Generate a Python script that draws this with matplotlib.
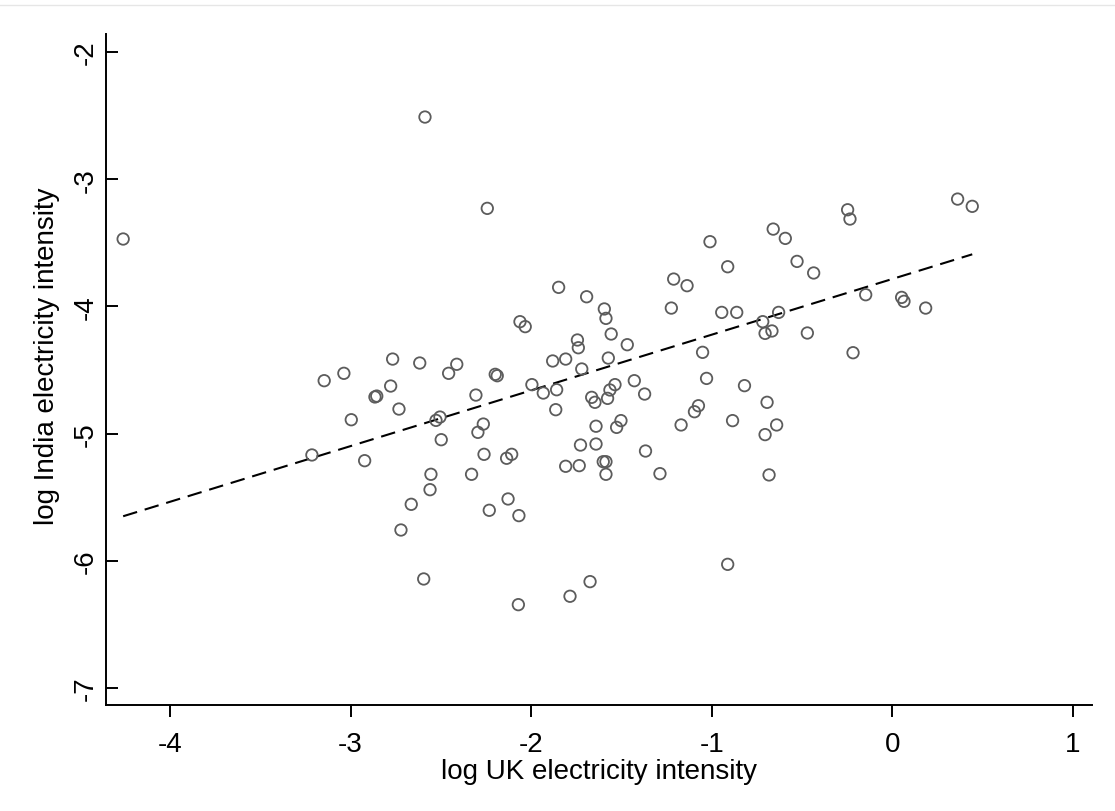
import numpy as np
import matplotlib
matplotlib.use("Agg")
import matplotlib.pyplot as plt
from matplotlib.lines import Line2D

plt.rcParams['font.family'] = ['Liberation Sans', 'DejaVu Sans']

# log UK electricity intensity (x) and log India electricity intensity (y)
uk = [-4.259, -3.146, -3.037, -2.767, -2.617, -2.412, -2.457, -2.778, -2.865, -2.855,
      -2.732, -2.996, -2.505, -2.527, -2.498, -3.214, -2.922, -2.555, -2.560, -2.664,
      -2.721, -2.595, -2.588, -2.243, -0.660, -0.593, -1.010, -0.912, -1.848, -1.693,
      -1.211, -1.137, -1.595, -1.586, -1.224, -0.945, -0.862, -0.630, -0.718, -0.705,
      -0.667, -2.062, -2.033, -1.557, -1.468, -1.744, -1.739, -1.573, -1.881, -1.809,
      -1.720, -2.199, -2.188, -2.306, -1.996, -1.933, -1.859, -1.864, -1.429, -1.372,
      -1.536, -1.564, -1.665, -1.647, -1.577, -1.051, -1.029, -0.819, -1.074, -1.096,
      -0.694, -0.885, -0.641, -0.705, -1.170, -2.265, -2.295, -2.261, -2.108, -2.136,
      -2.330, -1.641, -1.503, -1.527, -1.727, -1.641, -1.367, -1.809, -1.734, -1.601,
      -1.586, -1.586, -1.287, -0.683, -2.232, -2.128, -2.068, -2.071, -1.785, -1.674,
      -0.912, -0.528, -0.436, -0.248, -0.235, 0.361, 0.442, -0.148, 0.051, 0.064,
      0.184, -0.471, -0.218]
india = [-3.470, -4.584, -4.526, -4.414, -4.445, -4.455, -4.526, -4.626, -4.712, -4.705,
         -4.807, -4.891, -4.870, -4.896, -5.048, -5.168, -5.213, -5.320, -5.441, -5.556,
         -5.758, -6.143, -2.511, -3.229, -3.392, -3.465, -3.491, -3.688, -3.850, -3.924,
         -3.785, -3.837, -4.020, -4.094, -4.013, -4.047, -4.047, -4.047, -4.120, -4.212,
         -4.193, -4.120, -4.159, -4.217, -4.301, -4.264, -4.325, -4.406, -4.429, -4.414,
         -4.492, -4.534, -4.545, -4.697, -4.615, -4.681, -4.655, -4.812, -4.584, -4.689,
         -4.615, -4.657, -4.715, -4.754, -4.723, -4.361, -4.566, -4.623, -4.781, -4.828,
         -4.754, -4.898, -4.932, -5.008, -4.932, -4.925, -4.990, -5.163, -5.163, -5.194,
         -5.320, -4.942, -4.898, -4.951, -5.090, -5.082, -5.137, -5.257, -5.252, -5.221,
         -5.221, -5.320, -5.315, -5.325, -5.603, -5.514, -5.645, -6.345, -6.279, -6.164,
         -6.028, -3.646, -3.737, -3.240, -3.313, -3.156, -3.213, -3.908, -3.929, -3.960,
         -4.013, -4.209, -4.364]

# fitted line (linear fit shown dashed)
fit_intercept = -3.784
fit_slope = 0.4381

x_ticks = [-4, -3, -2, -1, 0, 1]
y_ticks = [-2, -3, -4, -5, -6, -7]
x_title = "log UK electricity intensity"
y_title = "log India electricity intensity"

uk = np.array(uk)
india = np.array(india)

fig = plt.figure(figsize=(11.15, 8.12), dpi=100)
ax = fig.add_axes([106 / 1115, 1 - 706 / 812, (1092 - 106) / 1115, (706 - 35) / 812])

ax.scatter(uk, india, s=68, facecolors='none', edgecolors='#5c5c5c', linewidths=1.3, zorder=3)

xs = np.array([uk.min(), uk.max()])
line, = ax.plot(xs, fit_intercept + fit_slope * xs, color='black', lw=1.5, zorder=2)
line.set_dashes([7, 3.8])

ax.set_xlim(-4.354, 1.105)
ax.set_ylim(-7.134, -1.858)
ax.set_xticks(x_ticks)
ax.set_yticks(y_ticks)
ax.set_xticklabels([str(t) for t in x_ticks])
ax.set_yticklabels([str(t) for t in y_ticks], rotation=90, va='center')

for s in ['top', 'right']:
    ax.spines[s].set_visible(False)
for s in ['left', 'bottom']:
    ax.spines[s].set_linewidth(1.4)
ax.tick_params(axis='x', which='major', direction='out', length=8.6, width=1.4,
               labelsize=20, pad=10)
ax.tick_params(axis='y', which='major', direction='in', length=8.6, width=1.4,
               labelsize=20, pad=5.5)

ax.set_xlabel(x_title, fontsize=20, labelpad=1)
ax.set_ylabel(y_title, fontsize=20)
ax.yaxis.set_label_coords(-0.047, 0.5216)

fig.add_artist(Line2D([0, 1], [1 - 6 / 812, 1 - 6 / 812], transform=fig.transFigure,
                      color='#e6e6e6', lw=1))

fig.savefig("out.png", dpi=100)
